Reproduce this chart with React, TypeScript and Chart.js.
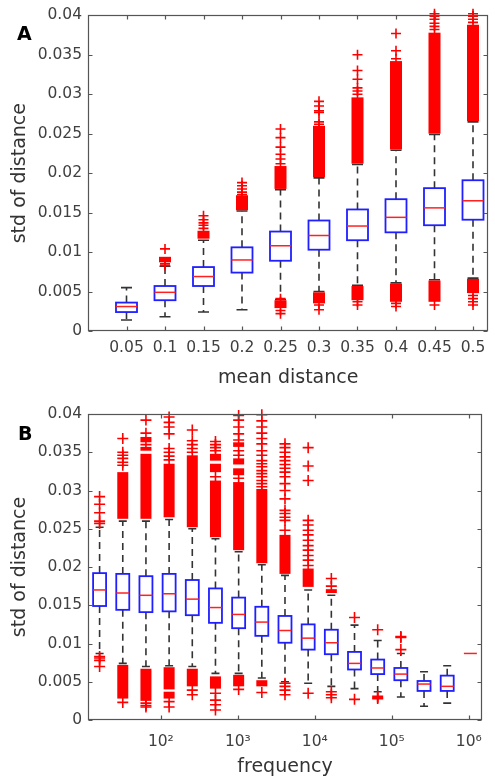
import React, { useEffect, useRef } from "react";
import { Chart, registerables } from "chart.js";

Chart.register(...registerables);

const FONT = '"DejaVu Sans", "Liberation Sans", sans-serif';

// ---------- shared y axis ----------
const yTickVals = [0, 0.005, 0.01, 0.015, 0.02, 0.025, 0.03, 0.035, 0.04];
const yTickLabels = ["0", "0.005", "0.01", "0.015", "0.02", "0.025", "0.03", "0.035", "0.04"];

// ---------- Panel A : std vs mean distance ----------
const posA = [0.05, 0.1, 0.15, 0.2, 0.25, 0.3, 0.35, 0.4, 0.45, 0.5];
const xTickLabelsA = ["0.05", "0.1", "0.15", "0.2", "0.25", "0.3", "0.35", "0.4", "0.45", "0.5"];
const loA = [0.0014, 0.0018, 0.0024, 0.0027, 0.0040, 0.0050, 0.0058, 0.0061, 0.0065, 0.0067];
const q1A = [0.0024, 0.0039, 0.0057, 0.0074, 0.0089, 0.0103, 0.0115, 0.0125, 0.0134, 0.0141];
const medA = [0.0031, 0.0049, 0.0069, 0.0090, 0.0108, 0.0121, 0.0133, 0.0144, 0.0156, 0.0165];
const q3A = [0.0036, 0.0057, 0.0081, 0.0106, 0.0126, 0.0140, 0.0154, 0.0167, 0.0181, 0.0191];
const hiA = [0.0055, 0.0082, 0.0115, 0.0152, 0.0179, 0.0194, 0.0211, 0.0229, 0.0249, 0.0265];
// dense outlier ranges, drawn as solid red
const bandsA: number[][][] = [
  [],
  [[0.0087, 0.0094]],
  [[0.0117, 0.0127]],
  [[0.0153, 0.0172]],
  [[0.0180, 0.0209], [0.0029, 0.0039]],
  [[0.0195, 0.0260], [0.0035, 0.0049]],
  [[0.0212, 0.0296], [0.0039, 0.0057]],
  [[0.0230, 0.0342], [0.0037, 0.0060]],
  [[0.0250, 0.0378], [0.0037, 0.0064]],
  [[0.0266, 0.0388], [0.0048, 0.0066]],
];
// individual outliers
const crossA: number[][] = [
  [],
  [0.0083, 0.0085, 0.0104],
  [0.0130, 0.0134, 0.0137, 0.0141, 0.0146],
  [0.0173, 0.0176, 0.0180, 0.0184, 0.0188],
  [0.0212, 0.0218, 0.0224, 0.0233, 0.0245, 0.0256, 0.0041, 0.0026, 0.0022],
  [0.0262, 0.0265, 0.0277, 0.0279, 0.0285, 0.0291, 0.0033, 0.0027],
  [0.0300, 0.0304, 0.0308, 0.0319, 0.0330, 0.0350, 0.0037, 0.0033],
  [0.0345, 0.0355, 0.0377, 0.0035, 0.0031],
  [0.0382, 0.0386, 0.0390, 0.0395, 0.0399, 0.0402, 0.0033],
  [0.0391, 0.0395, 0.0399, 0.0402, 0.0045, 0.0041, 0.0037, 0.0033],
];

// ---------- Panel B : std vs frequency ----------
const posB = [16, 32, 64, 128, 256, 512, 1024, 2048, 4096, 8192, 16384, 32768, 65536, 131072, 262144, 524288, 1048576];
const xTickValsB = [100, 1000, 10000, 100000, 1000000];
const xTickLabelsB = ["10\u00B2", "10\u00B3", "10\u2074", "10\u2075", "10\u2076"];
const loB = [0.0087, 0.0074, 0.0070, 0.0071, 0.0070, 0.0061, 0.0061, 0.0055, 0.0050, 0.0048, 0.0044, 0.0041, 0.0037, 0.0030, 0.0018, 0.0022, 0.0087];
const q1B = [0.0149, 0.0144, 0.0141, 0.0142, 0.0137, 0.0127, 0.0120, 0.0110, 0.0101, 0.0092, 0.0086, 0.0066, 0.0060, 0.0052, 0.0038, 0.0038, 0.0087];
const medB = [0.0170, 0.0166, 0.0163, 0.0165, 0.0158, 0.0147, 0.0138, 0.0128, 0.0117, 0.0107, 0.0101, 0.0074, 0.0068, 0.0060, 0.0047, 0.0044, 0.0087];
const q3B = [0.0192, 0.0191, 0.0188, 0.0191, 0.0183, 0.0172, 0.0160, 0.0148, 0.0136, 0.0125, 0.0118, 0.0089, 0.0079, 0.0068, 0.0051, 0.0058, 0.0087];
const hiB = [0.0252, 0.0260, 0.0260, 0.0262, 0.0250, 0.0237, 0.0220, 0.0203, 0.0189, 0.0170, 0.0163, 0.0124, 0.0104, 0.0087, 0.0063, 0.0071, 0.0087];
const bandsB: number[][][] = [
  [],
  [[0.0263, 0.0324], [0.0028, 0.0072]],
  [[0.0263, 0.0348], [0.0352, 0.0357], [0.0363, 0.0370], [0.0025, 0.0067]],
  [[0.0265, 0.0335], [0.0040, 0.0069], [0.0028, 0.0037]],
  [[0.0252, 0.0346], [0.0044, 0.0067]],
  [[0.0239, 0.0313], [0.0324, 0.0335], [0.0339, 0.0348], [0.0041, 0.0057]],
  [[0.0222, 0.0311], [0.0320, 0.0329], [0.0334, 0.0342], [0.0357, 0.0363], [0.0044, 0.0059]],
  [[0.0205, 0.0302], [0.0044, 0.0052]],
  [[0.0191, 0.0242]],
  [[0.0174, 0.0198]],
  [[0.0166, 0.0171]],
  [], [], [], [], [], [],
];
const crossB: number[][] = [
  [0.0257, 0.0260, 0.0271, 0.0282, 0.0292, 0.0083, 0.0081, 0.0078, 0.0070],
  [0.0333, 0.0337, 0.0342, 0.0346, 0.0350, 0.0368, 0.0023],
  [0.0360, 0.0375, 0.0392, 0.0022, 0.0019, 0.0017],
  [0.0340, 0.0345, 0.0350, 0.0355, 0.0374, 0.0383, 0.0389, 0.0396, 0.0024, 0.0017],
  [0.0350, 0.0355, 0.0360, 0.0365, 0.0379, 0.0039, 0.0033],
  [0.0318, 0.0352, 0.0356, 0.0360, 0.0364, 0.0035, 0.0026, 0.0020, 0.0013],
  [0.0316, 0.0346, 0.0352, 0.0366, 0.0374, 0.0383, 0.0392, 0.0398, 0.0040],
  [0.0305, 0.0309, 0.0313, 0.0318, 0.0322, 0.0326, 0.0331, 0.0335, 0.0339, 0.0346, 0.0352, 0.0361, 0.0368, 0.0375, 0.0383, 0.0391, 0.0399, 0.0036],
  [0.0248, 0.0261, 0.0265, 0.0270, 0.0274, 0.0289, 0.0300, 0.0309, 0.0318, 0.0324, 0.0329, 0.0334, 0.0339, 0.0344, 0.0350, 0.0356, 0.0361, 0.0048, 0.0044, 0.0039, 0.0033],
  [0.0202, 0.0209, 0.0215, 0.0222, 0.0228, 0.0235, 0.0242, 0.0248, 0.0255, 0.0261, 0.0313, 0.0332, 0.0356, 0.0035],
  [0.0175, 0.0185, 0.0037, 0.0033, 0.0029],
  [0.0134, 0.0027],
  [0.0118, 0.0031, 0.0029, 0.0028],
  [0.0109, 0.0108, 0.0092],
  [],
  [],
  [],
];

type PanelData = {
  pos: number[];
  lo: number[];
  q1: number[];
  med: number[];
  q3: number[];
  hi: number[];
  bands: number[][][];
  boxW: number;
  capW: number;
  bandW: number;
  letter: string;
  letterX: number;
  letterY: number;
  xTicks: number[];
};

function makeBoxPlugin(d: PanelData) {
  return {
    id: "boxes" + d.letter,
    beforeDatasetsDraw(chart: any) {
      const { ctx } = chart;
      const x = chart.scales.x;
      const y = chart.scales.y;
      ctx.save();
      for (let i = 0; i < d.pos.length; i++) {
        const px = x.getPixelForValue(d.pos[i]);
        const yLo = y.getPixelForValue(d.lo[i]);
        const yQ1 = y.getPixelForValue(d.q1[i]);
        const yMed = y.getPixelForValue(d.med[i]);
        const yQ3 = y.getPixelForValue(d.q3[i]);
        const yHi = y.getPixelForValue(d.hi[i]);
        const degenerate = d.q1[i] === d.q3[i];
        if (!degenerate) {
          // whiskers
          ctx.strokeStyle = "#333333";
          ctx.lineWidth = 1.6;
          ctx.setLineDash([7, 5]);
          ctx.beginPath();
          ctx.moveTo(px, yQ3);
          ctx.lineTo(px, yHi);
          ctx.moveTo(px, yQ1);
          ctx.lineTo(px, yLo);
          ctx.stroke();
          ctx.setLineDash([]);
          ctx.beginPath();
          ctx.moveTo(px - d.capW / 2, yHi);
          ctx.lineTo(px + d.capW / 2, yHi);
          ctx.moveTo(px - d.capW / 2, yLo);
          ctx.lineTo(px + d.capW / 2, yLo);
          ctx.stroke();
          // box
          ctx.strokeStyle = "#1f1fff";
          ctx.lineWidth = 1.8;
          ctx.strokeRect(px - d.boxW / 2, yQ3, d.boxW, yQ1 - yQ3);
        }
        // median
        ctx.strokeStyle = "#ff2020";
        ctx.lineWidth = 1.5;
        ctx.beginPath();
        ctx.moveTo(px - d.boxW / 2, yMed);
        ctx.lineTo(px + d.boxW / 2, yMed);
        ctx.stroke();
        // dense outlier ranges
        ctx.fillStyle = "#ff0000";
        for (const b of d.bands[i]) {
          const a = y.getPixelForValue(b[1]);
          const c = y.getPixelForValue(b[0]);
          ctx.fillRect(px - d.bandW / 2, a, d.bandW, c - a);
        }
      }
      ctx.restore();
    },
    afterDraw(chart: any) {
      const { ctx, chartArea } = chart;
      const x = chart.scales.x;
      const y = chart.scales.y;
      const l = Math.round(chartArea.left) + 0.5;
      const r = Math.round(chartArea.right) - 0.5;
      const t = Math.round(chartArea.top) + 0.5;
      const b = Math.round(chartArea.bottom) - 0.5;
      ctx.save();
      ctx.strokeStyle = "#555555";
      ctx.lineWidth = 1.2;
      ctx.strokeRect(l, t, r - l, b - t);
      ctx.beginPath();
      const tl = 4;
      for (const v of d.xTicks) {
        const px = Math.round(x.getPixelForValue(v)) + 0.5;
        ctx.moveTo(px, b);
        ctx.lineTo(px, b - tl);
        ctx.moveTo(px, t);
        ctx.lineTo(px, t + tl);
      }
      for (const v of yTickVals) {
        const py = Math.round(y.getPixelForValue(v)) + 0.5;
        ctx.moveTo(l, py);
        ctx.lineTo(l + tl, py);
        ctx.moveTo(r, py);
        ctx.lineTo(r - tl, py);
      }
      ctx.stroke();
      ctx.fillStyle = "#000000";
      ctx.font = 'bold 19px ' + FONT;
      ctx.textAlign = "left";
      ctx.textBaseline = "alphabetic";
      ctx.fillText(d.letter, d.letterX, d.letterY);
      ctx.restore();
    },
  };
}

function crossesData(pos: number[], crosses: number[][]) {
  const out: { x: number; y: number }[] = [];
  pos.forEach((p, i) => crosses[i].forEach((v) => out.push({ x: p, y: v })));
  return out;
}

function yScale(titlePad: number) {
  return {
    min: 0,
    max: 0.04,
    afterBuildTicks: (s: any) => {
      s.ticks = yTickVals.map((v) => ({ value: v }));
    },
    afterFit: (s: any) => {
      s.width = 88;
    },
    grid: { display: false, drawTicks: false },
    border: { display: false },
    ticks: {
      padding: 6,
      color: "#404040",
      font: { family: FONT, size: 15.5 },
      callback: (_v: any, i: number) => yTickLabels[i],
    },
    title: {
      display: true,
      text: "std of distance",
      color: "#333333",
      font: { family: FONT, size: 19 },
      padding: { top: titlePad, bottom: 0 },
    },
  };
}

function ChartA() {
  const ref = useRef<HTMLCanvasElement>(null);
  useEffect(() => {
    const panel: PanelData = {
      pos: posA, lo: loA, q1: q1A, med: medA, q3: q3A, hi: hiA, bands: bandsA,
      boxW: 21, capW: 11, bandW: 12, letter: "A", letterX: 17, letterY: 40, xTicks: posA,
    };
    const chart = new Chart(ref.current as HTMLCanvasElement, {
      type: "scatter",
      data: {
        datasets: [
          {
            data: crossesData(posA, crossA),
            pointStyle: "cross",
            radius: 5,
            borderColor: "#ff0000",
            backgroundColor: "#ff0000",
            borderWidth: 1.6,
            clip: false,
          } as any,
        ],
      },
      options: {
        animation: false,
        responsive: false,
        devicePixelRatio: 1,
        events: [],
        layout: { padding: { top: 13.5, right: 2, left: 0, bottom: 0 } },
        plugins: { legend: { display: false }, tooltip: { enabled: false } },
        scales: {
          x: {
            type: "linear",
            min: 0,
            max: 0.52,
            afterBuildTicks: (s: any) => {
              s.ticks = posA.map((v) => ({ value: v }));
            },
            afterFit: (s: any) => {
              s.height = 59;
            },
            grid: { display: false, drawTicks: false },
            border: { display: false },
            ticks: {
              autoSkip: false,
              maxRotation: 0,
              padding: 8,
              color: "#404040",
              font: { family: FONT, size: 15.5 },
              callback: (_v: any, i: number) => xTickLabelsA[i],
            },
            title: {
              display: true,
              text: "mean distance",
              color: "#333333",
              font: { family: FONT, size: 19 },
              padding: { top: 0, bottom: 1 },
            },
          },
          y: yScale(9),
        } as any,
      },
      plugins: [makeBoxPlugin(panel)],
    });
    return () => chart.destroy();
  }, []);
  return <canvas ref={ref} width={495} height={390} style={{ position: "absolute", left: 0, top: 0 }} />;
}

function ChartB() {
  const ref = useRef<HTMLCanvasElement>(null);
  useEffect(() => {
    const panel: PanelData = {
      pos: posB, lo: loB, q1: q1B, med: medB, q3: q3B, hi: hiB, bands: bandsB,
      boxW: 13, capW: 8, bandW: 11, letter: "B", letterX: 18, letterY: 50, xTicks: xTickValsB,
    };
    const chart = new Chart(ref.current as HTMLCanvasElement, {
      type: "scatter",
      data: {
        datasets: [
          {
            data: crossesData(posB, crossB),
            pointStyle: "cross",
            radius: 5.5,
            borderColor: "#ff0000",
            backgroundColor: "#ff0000",
            borderWidth: 1.6,
            clip: false,
          } as any,
        ],
      },
      options: {
        animation: false,
        responsive: false,
        devicePixelRatio: 1,
        events: [],
        layout: { padding: { top: 24, right: 1.7, left: 0, bottom: 0 } },
        plugins: { legend: { display: false }, tooltip: { enabled: false } },
        scales: {
          x: {
            type: "logarithmic",
            min: 11.31,
            max: 1483000,
            afterBuildTicks: (s: any) => {
              s.ticks = xTickValsB.map((v) => ({ value: v }));
            },
            afterFit: (s: any) => {
              s.height = 61;
            },
            grid: { display: false, drawTicks: false },
            border: { display: false },
            ticks: {
              autoSkip: false,
              maxRotation: 0,
              padding: 13,
              color: "#404040",
              font: { family: FONT, size: 15.5 },
              callback: (_v: any, i: number) => xTickLabelsB[i],
            },
            title: {
              display: true,
              text: "frequency",
              color: "#333333",
              font: { family: FONT, size: 19 },
              padding: { top: 0, bottom: 3 },
            },
          },
          y: yScale(9),
        } as any,
      },
      plugins: [makeBoxPlugin(panel)],
    });
    return () => chart.destroy();
  }, []);
  return <canvas ref={ref} width={495} height={391} style={{ position: "absolute", left: 0, top: 390 }} />;
}

export default function App() {
  return (
    <div style={{ position: "absolute", left: 0, top: 0, width: 495, height: 781, background: "#ffffff", overflow: "hidden" }}>
      <ChartA />
      <ChartB />
    </div>
  );
}
